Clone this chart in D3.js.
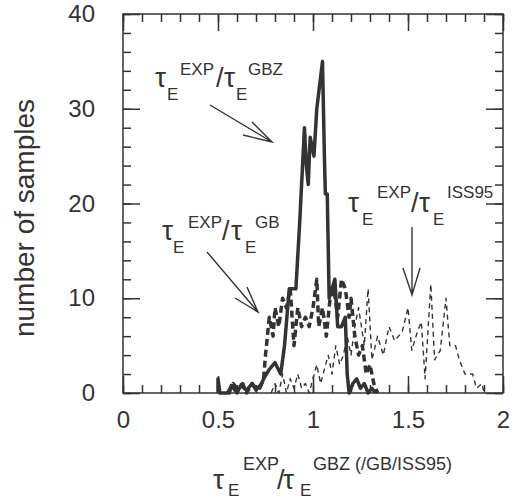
<!DOCTYPE html>
<html>
<head>
<meta charset="utf-8">
<script src="https://cdn.jsdelivr.net/npm/d3@7"></script>
<style>
  body { margin: 0; background: #fff; }
  text { font-family: "Liberation Sans", Arial, sans-serif; fill: #333; }
</style>
</head>
<body>
<svg width="518" height="499"></svg>
<script>
// data

const xTicks = [0, 0.5, 1, 1.5, 2];
const yTicks = [0, 10, 20, 30, 40];
const seriesNames = ["GBZ", "GB", "ISS95"];

// tau_E^EXP / tau_E^GBZ (solid)
const gbzX = [0.50, 0.50, 0.51, 0.56, 0.57, 0.60, 0.62, 0.65, 0.68, 0.70, 0.73, 0.74, 0.77, 0.80, 0.83, 0.85,
              0.875, 0.91, 0.93, 0.955, 0.965, 0.975, 0.985, 0.995, 1.005, 1.02, 1.05, 1.06, 1.065, 1.075, 1.085,
              1.10, 1.115, 1.13, 1.15, 1.17, 1.18, 1.19, 1.21, 1.23, 1.25, 1.27, 1.29, 1.31, 1.33];
const gbzY = [0, 1.5, 0, 0, 0.8, 0, 0.8, 0.3, 1, 0.3, 1, 1.5, 2.5, 3.2, 2, 5,
              11, 11, 18, 28, 24, 22, 27, 26, 25, 30, 35, 25, 21, 21, 10,
              11, 12, 7, 7, 8, 2, 0, 1, 1.5, 0.5, 1, 0, 0.5, 0];

// tau_E^EXP / tau_E^GB (thick dashes)
const gbX = [0.55, 0.58, 0.60, 0.63, 0.65, 0.68, 0.70, 0.72, 0.74, 0.75, 0.77, 0.79, 0.80, 0.82, 0.84, 0.86,
             0.88, 0.89, 0.90, 0.92, 0.94, 0.96, 0.98, 1.00, 1.02, 1.03, 1.05, 1.07, 1.09, 1.11, 1.13, 1.15,
             1.17, 1.19, 1.20, 1.22, 1.24, 1.26, 1.28, 1.30, 1.32, 1.34];
const gbY = [0, 1, 0.5, 1, 0, 1, 0.5, 0.5, 1.5, 4, 8, 6, 9, 7, 10, 9,
             11, 8, 5, 9, 7, 8, 7, 9, 12, 7, 9, 6, 10, 11, 8, 12,
             11, 8, 10, 6, 4, 5, 2, 3, 1, 0];

// tau_E^EXP / tau_E^ISS95 (thin dashes)
const issX = [0.78, 0.80, 0.82, 0.84, 0.86, 0.88, 0.90, 0.92, 0.94, 0.96, 0.98, 1.00, 1.02, 1.04, 1.06, 1.08,
              1.10, 1.12, 1.14, 1.16, 1.18, 1.20, 1.22, 1.24, 1.27, 1.29, 1.31, 1.34, 1.37, 1.40, 1.43, 1.47,
              1.50, 1.52, 1.55, 1.57, 1.59, 1.62, 1.64, 1.67, 1.70, 1.72, 1.75, 1.77, 1.80, 1.84, 1.86, 1.89, 1.90];
const issY = [0, 1, 0, 2, 0, 1.5, 0.5, 2, 0.5, 1, 0, 1.5, 3, 1, 2.5, 4,
              2, 5, 3, 4, 6, 4, 7, 9, 5, 11, 3.5, 6, 4, 7, 5.5, 6.5,
              9, 4.5, 6.5, 7.5, 1.5, 11.5, 3.5, 4.5, 10, 5, 5, 3.5, 2, 2, 0.5, 1, 0];

// dimensions

const margin = { top: 14, right: 15, bottom: 106, left: 123 },
      width = 518 - margin.left - margin.right,
      height = 499 - margin.top - margin.bottom;

const svg = d3.select("svg")
            .append("g")
              .attr("transform", `translate(${margin.left},${margin.top})`);

const x = d3.scaleLinear().domain([0, 2]).range([0, width]);
const y = d3.scaleLinear().domain([0, 40]).range([height, 0]);

// the three curves (drawn first, axes on top)

const lineGen = d3.line().x(d => x(d[0])).y(d => y(d[1]));

const series = [
  { xs: issX, ys: issY, w: 1.4, dash: "5,4" },
  { xs: gbX,  ys: gbY,  w: 3.5, dash: "7,4" },
  { xs: gbzX, ys: gbzY, w: 3.5, dash: null }
];

series.forEach(s => {
  svg.append("path")
     .datum(s.xs.map((v, i) => [v, s.ys[i]]))
     .attr("d", lineGen)
     .attr("fill", "none")
     .attr("stroke", "#333")
     .attr("stroke-width", s.w)
     .attr("stroke-linejoin", "round")
     .attr("stroke-dasharray", s.dash);
});

// axes: inward ticks on all four sides

const minorX = d3.range(0, 2.001, 0.1).map(v => +v.toFixed(1));
const minorY = d3.range(0, 40.01, 2);

function styleAxis(g) {
  g.select(".domain").remove();
  g.selectAll(".tick line").attr("stroke", "#333").attr("stroke-width", 1.5);
  g.selectAll(".tick text").attr("font-size", 24).attr("fill", "#333");
}

function addAxis(axis, tx, ty) {
  svg.append("g").attr("transform", `translate(${tx},${ty})`).call(axis).call(styleAxis);
}

addAxis(d3.axisBottom(x).tickValues(minorX).tickSize(-8).tickFormat(""), 0, height);
addAxis(d3.axisBottom(x).tickValues(xTicks).tickSize(-17).tickPadding(18).tickFormat(d3.format("")), 0, height);
addAxis(d3.axisTop(x).tickValues(minorX).tickSize(-8).tickFormat(""), 0, 0);
addAxis(d3.axisTop(x).tickValues(xTicks).tickSize(-17).tickFormat(""), 0, 0);
addAxis(d3.axisLeft(y).tickValues(minorY).tickSize(-8).tickFormat(""), 0, 0);
addAxis(d3.axisLeft(y).tickValues(yTicks).tickSize(-17).tickPadding(28), 0, 0);
addAxis(d3.axisRight(y).tickValues(minorY).tickSize(-8).tickFormat(""), width, 0);
addAxis(d3.axisRight(y).tickValues(yTicks).tickSize(-17).tickFormat(""), width, 0);

svg.append("rect")
   .attr("width", width).attr("height", height)
   .attr("fill", "none").attr("stroke", "#333").attr("stroke-width", 1.5);

// labels  tau_E^EXP / tau_E^XXX

const root = d3.select("svg");

function tauLabel(x0, y0, sup, off, supDy, subDy, supSize) {
  const g = root.append("g");
  const serif = '"DejaVu Serif", serif';
  g.append("text").attr("x", x0).attr("y", y0).attr("font-size", 28).attr("font-family", serif).text("τ");
  g.append("text").attr("x", x0 + off[0]).attr("y", y0 + subDy).attr("font-size", 17).text("E");
  g.append("text").attr("x", x0 + off[1]).attr("y", y0 + supDy).attr("font-size", supSize).text("EXP");
  g.append("text").attr("x", x0 + off[2]).attr("y", y0).attr("font-size", 27).text("/");
  g.append("text").attr("x", x0 + off[3]).attr("y", y0).attr("font-size", 28).attr("font-family", serif).text("τ");
  g.append("text").attr("x", x0 + off[4]).attr("y", y0 + subDy).attr("font-size", 17).text("E");
  g.append("text").attr("x", x0 + off[5]).attr("y", y0 + supDy).attr("font-size", supSize).text(sup);
}

tauLabel(155, 87, seriesNames[0], [12, 25, 61, 69, 81, 93], -12, 13, 17);
tauLabel(162, 240, seriesNames[1], [11, 26, 60, 69, 83, 93], -12, 13, 17);
tauLabel(348, 212, seriesNames[2], [14, 29, 63, 71, 85, 99], -14, 13, 17);
tauLabel(213, 489, "GBZ (/GB/ISS95)", [15, 30, 64, 70, 87, 100], -19, 7, 18);

// y axis title
root.append("text")
    .attr("transform", "translate(34,218) rotate(-90)")
    .attr("text-anchor", "middle")
    .attr("font-size", 28)
    .text("number of samples");

// arrows
const arrows = [
  [[210, 105], [272, 142], [252, 122], [243, 135]],
  [[207, 252], [258, 312], [247, 287], [235, 298]],
  [[412, 227], [412, 295], [403, 268], [420, 268]]
];

arrows.forEach(a => {
  const [s, t, h1, h2] = a;
  root.append("path")
      .attr("d", `M${s}L${t}M${h1}L${t}L${h2}`)
      .attr("fill", "none")
      .attr("stroke", "#333")
      .attr("stroke-width", 1.4);
});
</script>
</body>
</html>
